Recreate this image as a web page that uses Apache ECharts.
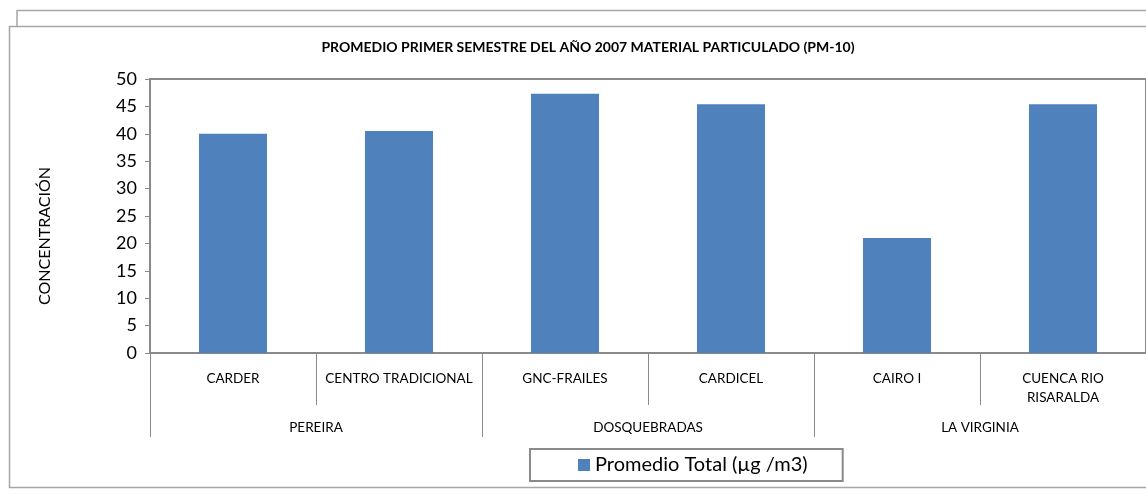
<!DOCTYPE html>
<html>
<head>
<meta charset="utf-8">
<script src="https://cdn.jsdelivr.net/npm/echarts@6/dist/echarts.min.js"></script>
<style>
  html, body { margin: 0; padding: 0; background: #fff; }
  #chart { width: 1146px; height: 497px; }
</style>
</head>
<body>
<div id="chart"></div>
<script>
// Monitoring stations and the municipality each one belongs to
const stations = ['CARDER', 'CENTRO TRADICIONAL', 'GNC-FRAILES', 'CARDICEL', 'CAIRO I', 'CUENCA RIO\nRISARALDA'];
const municipalities = ['PEREIRA', 'DOSQUEBRADAS', 'LA VIRGINIA'];
// Mean PM-10 concentration, first half of 2007
const promedioTotal = [40.0, 40.5, 47.3, 45.4, 21.0, 45.4];
const yTicks = { min: 0, max: 50, interval: 5 };

const FONT = 'Lato, "Open Sans", sans-serif';
const GREY = '#8a8a8a';

const chart = echarts.init(document.getElementById('chart'), null, { renderer: 'canvas' });

chart.setOption({
  backgroundColor: '#ffffff',
  animation: false,
  title: {
    text: 'PROMEDIO PRIMER SEMESTRE DEL AÑO 2007 MATERIAL PARTICULADO (PM-10)',
    left: 583,
    textAlign: 'center',
    top: 35,
    textStyle: { fontFamily: FONT, fontSize: 14, fontWeight: 'bold', color: '#000' }
  },
  legend: {
    data: ['Promedio Total (µg /m3)'],
    left: 530,
    top: 449,
    icon: 'rect',
    itemWidth: 12,
    itemHeight: 12,
    padding: [6, 35, 6, 48],
    borderColor: GREY,
    borderWidth: 2,
    textStyle: { fontFamily: FONT, fontSize: 20, color: '#000' }
  },
  grid: {
    left: 150,
    top: 79,
    right: -3,
    bottom: 144,
    show: true,
    borderColor: GREY,
    borderWidth: 2,
    backgroundColor: 'transparent'
  },
  xAxis: [
    {
      type: 'category',
      data: stations,
      position: 'bottom',
      axisLine: { show: true, lineStyle: { color: GREY, width: 2 } },
      axisTick: { show: true, length: 52, lineStyle: { color: GREY, width: 1 } },
      axisLabel: {
        margin: 16,
        interval: 0,
        fontFamily: FONT,
        fontSize: 13.5,
        lineHeight: 19,
        color: '#000'
      }
    },
    {
      type: 'category',
      data: municipalities,
      position: 'bottom',
      axisLine: { show: false },
      axisTick: { show: true, length: 84, lineStyle: { color: GREY, width: 1 } },
      axisLabel: {
        margin: 68,
        interval: 0,
        fontFamily: FONT,
        fontSize: 13.5,
        color: '#000'
      }
    }
  ],
  yAxis: {
    type: 'value',
    min: yTicks.min,
    max: yTicks.max,
    interval: yTicks.interval,
    name: 'CONCENTRACIÓN',
    nameLocation: 'middle',
    nameRotate: 90,
    nameGap: 97,
    nameTextStyle: { fontFamily: FONT, fontSize: 16, color: '#000', padding: [0, 40, 0, 0] },
    axisLine: { show: true, lineStyle: { color: GREY, width: 2 } },
    axisTick: { show: true, length: 5, lineStyle: { color: GREY, width: 1 } },
    splitLine: { show: false },
    axisLabel: {
      margin: 13,
      fontFamily: FONT,
      fontSize: 18,
      color: '#000'
    }
  },
  series: [
    {
      name: 'Promedio Total (µg /m3)',
      type: 'bar',
      xAxisIndex: 0,
      data: promedioTotal,
      barCategoryGap: '59%',
      itemStyle: { color: '#4F81BD' }
    }
  ],
  graphic: [
    // outer chart frames
    {
      type: 'polyline',
      shape: { points: [[17, 26], [17, 10.5], [1160, 10.5]] },
      style: { stroke: '#a6a6a6', lineWidth: 1.5, fill: null },
      silent: true
    },
    {
      type: 'polyline',
      shape: { points: [[1160, 26.5], [9.5, 26.5], [9.5, 487.5], [1160, 487.5]] },
      style: { stroke: '#a6a6a6', lineWidth: 1.5, fill: null },
      silent: true
    }
  ]
});
</script>
</body>
</html>
